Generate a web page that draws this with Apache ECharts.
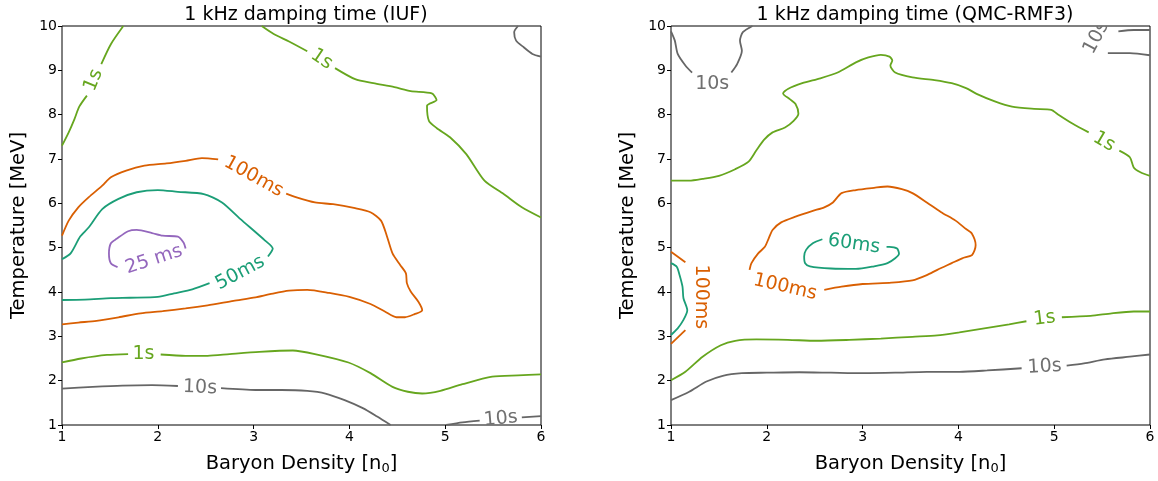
<!DOCTYPE html>
<html>
<head>
<meta charset="utf-8">
<script src="https://cdn.jsdelivr.net/npm/echarts@6/dist/echarts.min.js"></script>
<style>html,body{margin:0;padding:0;background:#fff}#c{width:1158px;height:481px}</style>
</head>
<body>
<div id="c"></div>
<script>
// ---------- tick labels ----------
const xTicks = [1, 2, 3, 4, 5, 6];
const yTicks = [1, 2, 3, 4, 5, 6, 7, 8, 9, 10];
const titles = ['1 kHz damping time (IUF)', '1 kHz damping time (QMC-RMF3)'];

// ---------- IUF contours ----------
const iuf_1s_a = [[1.0,7.30],[1.07,7.60],[1.13,7.90],[1.18,8.18],[1.26,8.43]];
const iuf_1s_b = [[1.41,9.14],[1.51,9.59],[1.64,10.0]];
const iuf_1s_c = [[3.085,10.0],[3.21,9.82],[3.37,9.65],[3.56,9.43]];
const iuf_1s_d = [[3.85,9.05],[4.06,8.80],[4.25,8.71],[4.47,8.62],[4.64,8.53],[4.86,8.48],[4.91,8.33],[4.81,8.20],[4.83,7.86],[4.91,7.70],[5.05,7.49],[5.22,7.11],[5.41,6.51],[5.61,6.21],[5.80,5.91],[6.0,5.68]];
const iuf_100ms_a = [[1.0,5.27],[1.07,5.61],[1.17,5.91],[1.28,6.14],[1.42,6.40],[1.51,6.59],[1.67,6.74],[1.86,6.85],[2.09,6.90],[2.29,6.96],[2.46,7.02],[2.63,6.99]];
const iuf_100ms_b = [[3.34,6.22],[3.44,6.14],[3.64,6.02],[3.83,5.98],[4.06,5.89],[4.22,5.80],[4.33,5.61],[4.39,5.27],[4.45,4.87],[4.53,4.61],[4.59,4.42],[4.60,4.20],[4.64,4.01],[4.72,3.78],[4.76,3.59],[4.68,3.50],[4.58,3.43],[4.49,3.43],[4.37,3.56],[4.22,3.73],[4.00,3.89],[3.79,3.98],[3.56,4.05],[3.37,4.03],[3.17,3.95],[3.02,3.88],[2.79,3.80],[2.52,3.70],[2.29,3.63],[2.05,3.57],[1.82,3.52],[1.59,3.43],[1.36,3.35],[1.17,3.31],[1.0,3.27]];
const iuf_50ms_a = [[3.15,4.80],[3.20,4.98],[3.12,5.16],[2.86,5.65],[2.67,6.02],[2.48,6.21],[2.21,6.26],[2.0,6.30],[1.78,6.25],[1.59,6.10],[1.42,5.87],[1.28,5.46],[1.19,5.25],[1.09,4.87],[1.0,4.74]];
const iuf_50ms_b = [[2.54,4.20],[2.36,4.06],[2.17,3.97],[2.0,3.89],[1.71,3.87],[1.51,3.86],[1.24,3.83],[1.0,3.82]];
const iuf_25ms = [[2.29,4.98],[2.27,5.11],[2.21,5.25],[2.05,5.27],[1.94,5.33],[1.78,5.40],[1.69,5.37],[1.57,5.20],[1.51,5.10],[1.49,4.87],[1.51,4.65],[1.58,4.56]];
const iuf_1s_e = [[1.0,2.41],[1.20,2.50],[1.47,2.58],[1.69,2.60]];
const iuf_1s_f = [[2.03,2.59],[2.29,2.56],[2.52,2.56],[2.75,2.60],[3.06,2.65],[3.41,2.68],[3.64,2.60],[3.99,2.41],[4.22,2.17],[4.45,1.86],[4.61,1.75],[4.76,1.71],[4.95,1.77],[5.18,1.92],[5.49,2.09],[5.76,2.12],[6.0,2.14]];
const iuf_10s_a = [[1.0,1.82],[1.32,1.86],[1.63,1.89],[1.94,1.90],[2.21,1.88]];
const iuf_10s_b = [[2.66,1.83],[3.02,1.79],[3.29,1.79],[3.56,1.77],[3.75,1.71],[3.95,1.56],[4.14,1.38],[4.29,1.19],[4.43,1.0]];
const iuf_10s_c = [[5.01,1.0],[5.18,1.06],[5.36,1.10]];
const iuf_10s_d = [[5.80,1.17],[6.0,1.20]];
const iuf_10s_e = [[5.76,10.0],[5.72,9.86],[5.74,9.67],[5.82,9.52],[5.91,9.37],[6.0,9.31]];

// IUF labels: [x, y, text, angle]
const iufLabels = [
  [1.33, 8.78, '1s', 68],
  [3.71, 9.25, '1s', -34],
  [3.00, 6.60, '100ms', -29],
  [2.86, 4.43, '50ms', 28],
  [1.96, 4.73, '25 ms', 18],
  [1.85, 2.59, '1s', 0],
  [2.44, 1.84, '10s', -2],
  [5.58, 1.14, '10s', 5]
];

// ---------- QMC-RMF3 contours ----------
const qmc_10s_a = [[1.0,9.88],[1.04,9.67],[1.07,9.37],[1.15,9.11],[1.22,8.95]];
const qmc_10s_b = [[1.63,8.95],[1.69,9.14],[1.74,9.44],[1.72,9.67],[1.75,9.86],[1.85,10.0]];
const qmc_10s_c = [[5.67,9.88],[5.83,9.91],[6.0,9.91]];
const qmc_10s_d = [[5.56,9.39],[5.79,9.39],[6.0,9.34]];
const qmc_1s_a = [[1.0,6.51],[1.19,6.51],[1.33,6.55],[1.50,6.62],[1.67,6.77],[1.81,6.94],[1.89,7.19],[1.97,7.43],[2.06,7.60],[2.19,7.71],[2.28,7.86],[2.33,8.02],[2.30,8.24],[2.24,8.35],[2.17,8.48],[2.22,8.58],[2.37,8.71],[2.56,8.82],[2.74,8.95],[2.93,9.18],[3.06,9.29],[3.19,9.35],[3.28,9.31],[3.31,9.22],[3.29,9.11],[3.34,8.95],[3.52,8.84],[3.75,8.78],[3.93,8.71],[4.08,8.60],[4.19,8.47],[4.38,8.30],[4.56,8.18],[4.79,8.13],[4.97,8.11],[5.03,8.02],[5.19,7.80],[5.36,7.60]];
const qmc_1s_b = [[5.68,7.19],[5.79,7.04],[5.83,6.81],[5.90,6.70],[6.0,6.62]];
const qmc_100ms_a = [[1.82,4.50],[1.84,4.65],[1.91,4.87],[1.98,5.02],[2.02,5.21],[2.06,5.40],[2.15,5.57],[2.30,5.70],[2.48,5.83],[2.60,5.91],[2.69,6.02],[2.78,6.23],[2.93,6.30],[3.12,6.35],[3.26,6.38],[3.41,6.32],[3.52,6.23],[3.67,6.02],[3.82,5.80],[3.97,5.61],[4.08,5.42],[4.14,5.32],[4.18,5.06],[4.17,4.95],[4.14,4.83],[4.04,4.76],[3.93,4.65],[3.78,4.50],[3.67,4.38],[3.52,4.26],[3.30,4.21],[3.00,4.18],[2.78,4.12],[2.60,4.05]];
const qmc_100ms_b = [[1.0,4.91],[1.15,4.67]];
const qmc_100ms_c = [[1.0,2.83],[1.15,3.14]];
const qmc_60ms_a = [[2.58,5.19],[2.48,5.10],[2.41,4.95],[2.39,4.80],[2.40,4.65],[2.45,4.58],[2.67,4.53],[2.93,4.52],[3.12,4.58],[3.26,4.65],[3.34,4.76],[3.38,4.86],[3.36,4.98],[3.28,5.02],[3.25,5.02]];
const qmc_60ms_b = [[1.0,4.65],[1.06,4.57],[1.09,4.38],[1.12,4.12],[1.13,3.86],[1.17,3.59],[1.13,3.37],[1.07,3.18],[1.0,3.03]];
const qmc_1s_c = [[1.0,2.01],[1.15,2.20],[1.33,2.54],[1.52,2.80],[1.67,2.90],[1.89,2.93],[2.22,2.92],[2.52,2.90],[2.86,2.92],[3.19,2.95],[3.52,2.99],[3.78,3.02],[4.01,3.09],[4.27,3.18],[4.53,3.27],[4.71,3.34]];
const qmc_1s_d = [[5.08,3.43],[5.38,3.46],[5.60,3.52],[5.83,3.56],[6.0,3.56]];
const qmc_10s_e = [[1.0,1.56],[1.19,1.75],[1.37,1.98],[1.54,2.11],[1.74,2.17],[2.0,2.18],[2.34,2.19],[2.67,2.18],[3.00,2.17],[3.34,2.18],[3.67,2.20],[4.01,2.20],[4.30,2.23],[4.66,2.28]];
const qmc_10s_f = [[5.13,2.34],[5.31,2.39],[5.53,2.48],[5.79,2.54],[6.0,2.59]];

const qmcLabels = [
  [1.43, 8.69, '10s', 0],
  [5.44, 9.74, '10s', 62],
  [5.52, 7.39, '1s', -30],
  [2.19, 4.11, '100ms', -13],
  [2.91, 5.08, '60ms', -8],
  [1.31, 3.89, '100ms', -90],
  [4.90, 3.40, '1s', 7],
  [4.90, 2.31, '10s', 3]
];

// ---------- colours ----------
const C = {gray:'#666666', green:'#66a61e', orange:'#d95f02', teal:'#1b9e77', purple:'#9467bd'};
const CT = {gray:'#707070', green:'#66a61e', orange:'#d95f02', teal:'#1b9e77', purple:'#9467bd'};

const leftLines = [
  [iuf_1s_a,'green'],[iuf_1s_b,'green'],[iuf_1s_c,'green'],[iuf_1s_d,'green'],
  [iuf_100ms_a,'orange'],[iuf_100ms_b,'orange'],
  [iuf_50ms_a,'teal'],[iuf_50ms_b,'teal'],
  [iuf_25ms,'purple'],
  [iuf_1s_e,'green'],[iuf_1s_f,'green'],
  [iuf_10s_a,'gray'],[iuf_10s_b,'gray'],[iuf_10s_c,'gray'],[iuf_10s_d,'gray'],[iuf_10s_e,'gray']
];
const iufLabelColors = ['green','green','orange','teal','purple','green','gray','gray'];
const rightLines = [
  [qmc_10s_a,'gray'],[qmc_10s_b,'gray'],[qmc_10s_c,'gray'],[qmc_10s_d,'gray'],
  [qmc_1s_a,'green'],[qmc_1s_b,'green'],
  [qmc_100ms_a,'orange'],[qmc_100ms_b,'orange'],[qmc_100ms_c,'orange'],
  [qmc_60ms_a,'teal'],[qmc_60ms_b,'teal'],
  [qmc_1s_c,'green'],[qmc_1s_d,'green'],
  [qmc_10s_e,'gray'],[qmc_10s_f,'gray']
];
const qmcLabelColors = ['gray','gray','green','orange','teal','orange','green','gray'];

const FONT = 'DejaVu Sans';
const grids = [
  {left: 62, top: 26, width: 479, height: 399, show: true, borderColor: '#000', borderWidth: 1, backgroundColor: 'transparent'},
  {left: 671, top: 26, width: 479, height: 399, show: true, borderColor: '#000', borderWidth: 1, backgroundColor: 'transparent'}
];
function xAxis(i) {
  return {type:'value', gridIndex:i, min:xTicks[0], max:xTicks[xTicks.length-1], interval:1,
    name:'Baryon Density [n{sub|0}]', nameLocation:'middle', nameGap:28,
    nameTextStyle:{fontFamily:FONT, fontSize:19.5, color:'#000', rich:{sub:{fontFamily:FONT, fontSize:13, verticalAlign:'bottom', padding:[9,0,0,0], color:'#000'}}},
    axisLine:{show:false}, splitLine:{show:false},
    axisTick:{show:true, inside:false, length:4, lineStyle:{color:'#000', width:1}},
    axisLabel:{fontFamily:FONT, fontSize:14, color:'#000', margin:5}};
}
function yAxis(i) {
  return {type:'value', gridIndex:i, min:yTicks[0], max:yTicks[yTicks.length-1], interval:1,
    name:'Temperature [MeV]', nameLocation:'middle', nameGap:33,
    nameTextStyle:{fontFamily:FONT, fontSize:19.5, color:'#000'},
    axisLine:{show:false}, splitLine:{show:false},
    axisTick:{show:true, inside:false, length:4, lineStyle:{color:'#000', width:1}},
    axisLabel:{fontFamily:FONT, fontSize:14, color:'#000', margin:5}};
}

const series = [];
function addLines(list, gi) {
  list.forEach(([d, c]) => {
    series.push({type:'line', xAxisIndex:gi, yAxisIndex:gi, data:d, showSymbol:false, symbol:'none',
      smooth:0.25, lineStyle:{color:C[c], width:1.8}, silent:true, animation:false, clip:true});
  });
}
function addLabels(labels, colors, gi) {
  series.push({type:'custom', xAxisIndex:gi, yAxisIndex:gi, silent:true, animation:false, clip:true,
    data: labels.map((l, k) => [l[0], l[1], l[2], l[3], colors[k]]),
    renderItem: function (params, api) {
      const idx = params.dataIndex;
      const l = labels[idx];
      const p = api.coord([l[0], l[1]]);
      return {type:'text', x:p[0], y:p[1], rotation: l[3] * Math.PI / 180,
        style:{text:l[2], fill:CT[colors[idx]], font:'19px "DejaVu Sans"', align:'center', verticalAlign:'middle'}};
    }});
}
addLines(leftLines, 0); addLabels(iufLabels, iufLabelColors, 0);
addLines(rightLines, 1); addLabels(qmcLabels, qmcLabelColors, 1);

const chart = echarts.init(document.getElementById('c'), null, {renderer:'canvas'});
chart.setOption({
  animation:false,
  backgroundColor:'#fff',
  title: [
    {text:titles[0], left:301, top:1, textAlign:'center', textStyle:{fontFamily:FONT, fontSize:19, fontWeight:'normal', color:'#000'}},
    {text:titles[1], left:910, top:1, textAlign:'center', textStyle:{fontFamily:FONT, fontSize:19, fontWeight:'normal', color:'#000'}}
  ],
  grid: grids,
  xAxis: [xAxis(0), xAxis(1)],
  yAxis: [yAxis(0), yAxis(1)],
  series: series
});
</script>
</body>
</html>
